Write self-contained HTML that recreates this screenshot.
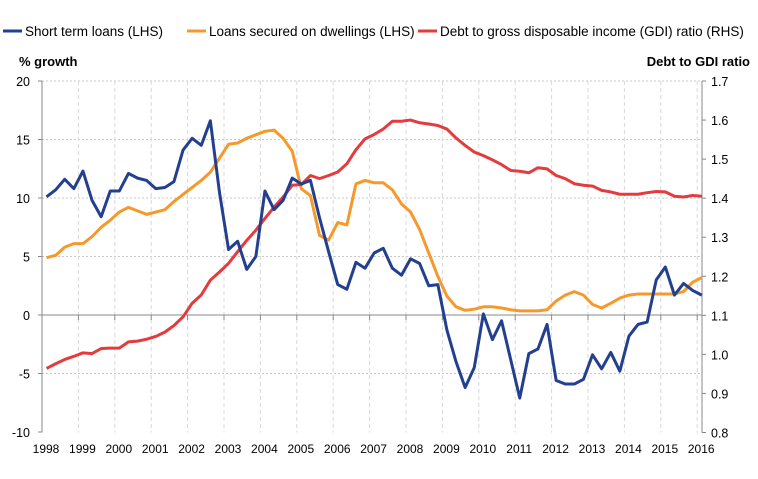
<!DOCTYPE html>
<html><head><meta charset="utf-8"><style>
body{margin:0;background:#fff;font-family:"Liberation Sans",Arial,sans-serif}
svg text{font-family:"Liberation Sans",Arial,sans-serif;fill:#000}
</style></head><body>
<svg id="c" width="758" height="474" viewBox="0 0 758 474"></svg>
<script>
const years=[1998,1999,2000,2001,2002,2003,2004,2005,2006,2007,2008,2009,2010,2011,2012,2013,2014,2015,2016];
const leftTicks=[-10,-5,0,5,10,15,20];
const rightTicks=[0.8,0.9,1.0,1.1,1.2,1.3,1.4,1.5,1.6,1.7];
const shortTerm=[10.1,10.7,11.6,10.8,12.3,9.8,8.4,10.6,10.6,12.1,11.7,11.5,10.8,10.9,11.4,14.1,15.1,14.5,16.6,10.5,5.6,6.3,3.9,5.0,10.6,9.0,9.8,11.7,11.2,11.5,8.3,5.4,2.6,2.2,4.5,4.0,5.3,5.7,4.0,3.4,4.8,4.4,2.5,2.6,-1.3,-4.0,-6.2,-4.5,0.1,-2.1,-0.5,-3.8,-7.1,-3.3,-2.9,-0.8,-5.6,-5.9,-5.9,-5.5,-3.4,-4.6,-3.2,-4.8,-1.8,-0.8,-0.6,3.0,4.1,1.7,2.7,2.1,1.7];
const dwellings=[4.9,5.1,5.8,6.1,6.1,6.7,7.5,8.1,8.8,9.2,8.9,8.6,8.8,9.0,9.7,10.3,10.9,11.5,12.2,13.4,14.6,14.7,15.1,15.4,15.7,15.8,15.1,14.0,10.8,10.2,6.8,6.4,7.9,7.7,11.2,11.5,11.3,11.3,10.7,9.5,8.8,7.3,5.3,3.3,1.6,0.7,0.4,0.5,0.7,0.7,0.6,0.45,0.35,0.35,0.35,0.45,1.2,1.7,2.0,1.7,0.9,0.6,1.0,1.45,1.7,1.8,1.8,1.8,1.8,1.8,2.0,2.8,3.2];
const debtRatio=[0.964,0.976,0.987,0.995,1.004,1.002,1.015,1.016,1.016,1.032,1.034,1.039,1.046,1.057,1.074,1.096,1.131,1.152,1.190,1.211,1.233,1.263,1.292,1.318,1.348,1.377,1.403,1.433,1.435,1.458,1.450,1.458,1.467,1.488,1.524,1.552,1.563,1.577,1.597,1.597,1.600,1.593,1.590,1.586,1.577,1.554,1.535,1.518,1.509,1.498,1.486,1.471,1.469,1.465,1.478,1.475,1.458,1.450,1.437,1.433,1.431,1.420,1.416,1.410,1.410,1.410,1.414,1.417,1.416,1.405,1.403,1.407,1.405];

const NS="http://www.w3.org/2000/svg";
const svg=document.getElementById('c');
const X0=42,YW=36.4,TOP=81,BOT=432.5,RX=702;
const xYear=y=>X0+(y-1998)*YW;
const xQ=i=>X0+YW/8+i*YW/4;
const yL=v=>315-(v)*(315-TOP)/20;
const yR=v=>TOP+(1.7-v)*(BOT-TOP)/0.9;
function el(t,a,p){const e=document.createElementNS(NS,t);for(const k in a)e.setAttribute(k,a[k]);(p||svg).appendChild(e);return e;}

leftTicks.forEach(t=>{if(t!==0&&t!==-10){const g=el('line',{x1:X0,x2:RX,y1:yL(t),y2:yL(t),stroke:'#c8c8c8','stroke-dasharray':'2,2'});

}
const tx=el('text',{x:30,y:yL(t)+5,'text-anchor':'end','font-size':'12.5'});tx.textContent=t;

});
rightTicks.forEach(t=>{const tx=el('text',{x:711,y:yR(t)+5,'font-size':'12.5'});tx.textContent=t.toFixed(1);


el('line',{x1:RX,x2:RX+4,y1:yR(t),y2:yR(t),stroke:'#888'});});
years.forEach(y=>{const x=xYear(y);if(y>1998){const g=el('line',{x1:x,x2:x,y1:TOP,y2:BOT,stroke:'#d8d8d8','stroke-dasharray':'4,3'});

}
el('line',{x1:x,x2:x,y1:315,y2:320,stroke:'#888'});
const tx=el('text',{x:x+4,y:453,'text-anchor':'middle','font-size':'12'});tx.textContent=y;

});
leftTicks.forEach(t=>el('line',{x1:X0-4,x2:X0,y1:yL(t),y2:yL(t),stroke:'#888'}));
const ax=el('line',{x1:X0,x2:X0,y1:TOP,y2:BOT,stroke:'#888'});

const ax2=el('line',{x1:RX,x2:RX,y1:TOP,y2:BOT,stroke:'#888'});

const zl=el('line',{x1:X0,x2:RX,y1:yL(0),y2:yL(0),stroke:'#888'});


function series(arr,fy,col,name){const p=el('polyline',{points:arr.map((v,i)=>xQ(i)+','+fy(v)).join(' '),fill:'none',stroke:col,'stroke-width':'3','stroke-linejoin':'round'});

}
series(dwellings,yL,'#f7982b','dwellings-line');
series(debtRatio,yR,'#e33b3e','debt-ratio-line');
series(shortTerm,yL,'#233f90','short-term-loans-line');

let t=el('text',{x:19,y:66,'font-size':'13','font-weight':'bold'});t.textContent='% growth';

t=el('text',{x:750,y:66,'font-size':'13','font-weight':'bold','text-anchor':'end'});t.textContent='Debt to GDI ratio';


const leg=[[3,'#233f90','Short term loans (LHS)'],[187,'#f7982b','Loans secured on dwellings (LHS)'],[418,'#e33b3e','Debt to gross disposable income (GDI) ratio (RHS)']];
leg.forEach(l=>{const g=el('g',{});


el('line',{x1:l[0],x2:l[0]+19,y1:31,y2:31,stroke:l[1],'stroke-width':'3'},g);
const tx=el('text',{x:l[0]+22,y:36,'font-size':'13.5'},g);tx.textContent=l[2];});
</script>
</body></html>
